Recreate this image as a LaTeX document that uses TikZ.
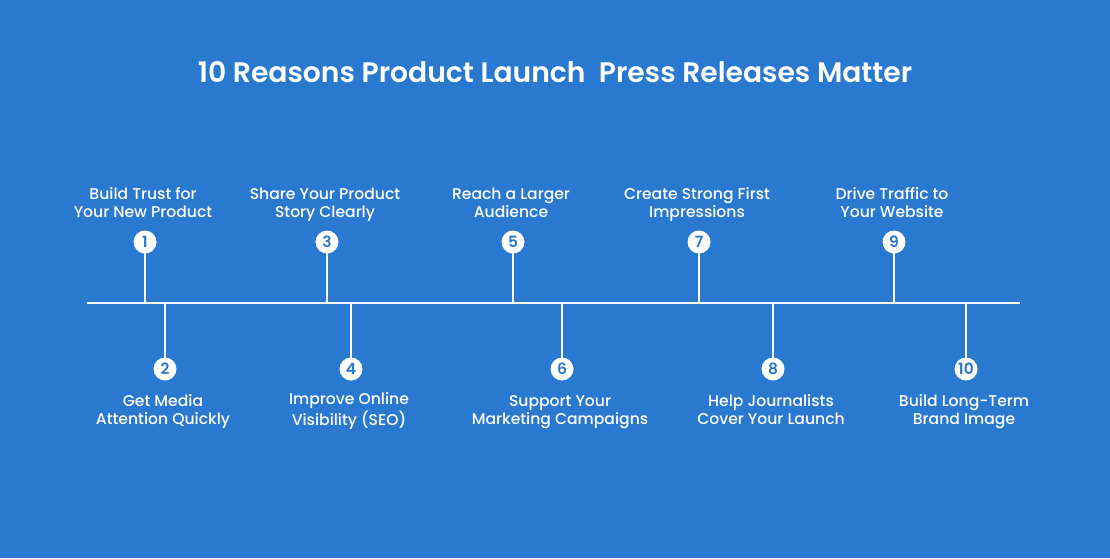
\documentclass[tikz,border=0pt]{standalone}
\usepackage{fontspec}
\setmainfont{Poppins}[UprightFont=* Medium, BoldFont=* SemiBold]
\definecolor{bg}{HTML}{2979D0}
\begin{document}
\begin{tikzpicture}[x=1pt,y=-1pt,
  numc/.style={circle,fill=white,minimum size=23pt,inner sep=0pt,text=bg,font=\fontsize{15.5}{15.5}\selectfont\bfseries},
  lbl/.style={text=white,align=center,font=\fontsize{15.6}{18}\selectfont},
  stem/.style={draw=white,line width=2.4pt}]
\fill[bg] (0,0) rectangle (1110,558);
\useasboundingbox (0,0) rectangle (1110,558);
\node[text=white,font=\fontsize{28.2}{30}\selectfont\bfseries] (title) at (555,72) {10 Reasons Product Launch\ \ Press Releases Matter};
\coordinate (L) at (87,303);
\coordinate (R) at (1020,303);
\draw[stem] (L) -- (R);
% top items
\foreach \n/\x/\t in {1/145/{Build Trust for\\Your New Product},3/327/{Share Your Product\\Story Clearly},5/513/{Reach a Larger\\Audience},7/699/{Create Strong First\\Impressions},9/894/{Drive Traffic to\\Your Website}}{
  \coordinate (b\n) at (\x,303);
  \draw[stem] (b\n) -- (\x,242);
  \node[numc] (c\n) at (\x,242) {\n};
  \node[lbl] (t\n) at (\x-2,204.5) {\strut\t\strut};
}
% bottom items
\foreach \n/\x/\t in {2/165/{Get Media\\Attention Quickly},4/351/{Improve Online\\Visibility (SEO)},6/562/{Support Your\\Marketing Campaigns},8/773/{Help Journalists\\Cover Your Launch},10/966/{Build Long-Term\\Brand Image}}{
  \coordinate (b\n) at (\x,303);
  \draw[stem] (b\n) -- (\x,369);
  \node[numc] (c\n) at (\x,369) {\n};
  \node[lbl] (t\n) at (\x-2,411.5) {\strut\t\strut};
}
\end{tikzpicture}
\end{document}
